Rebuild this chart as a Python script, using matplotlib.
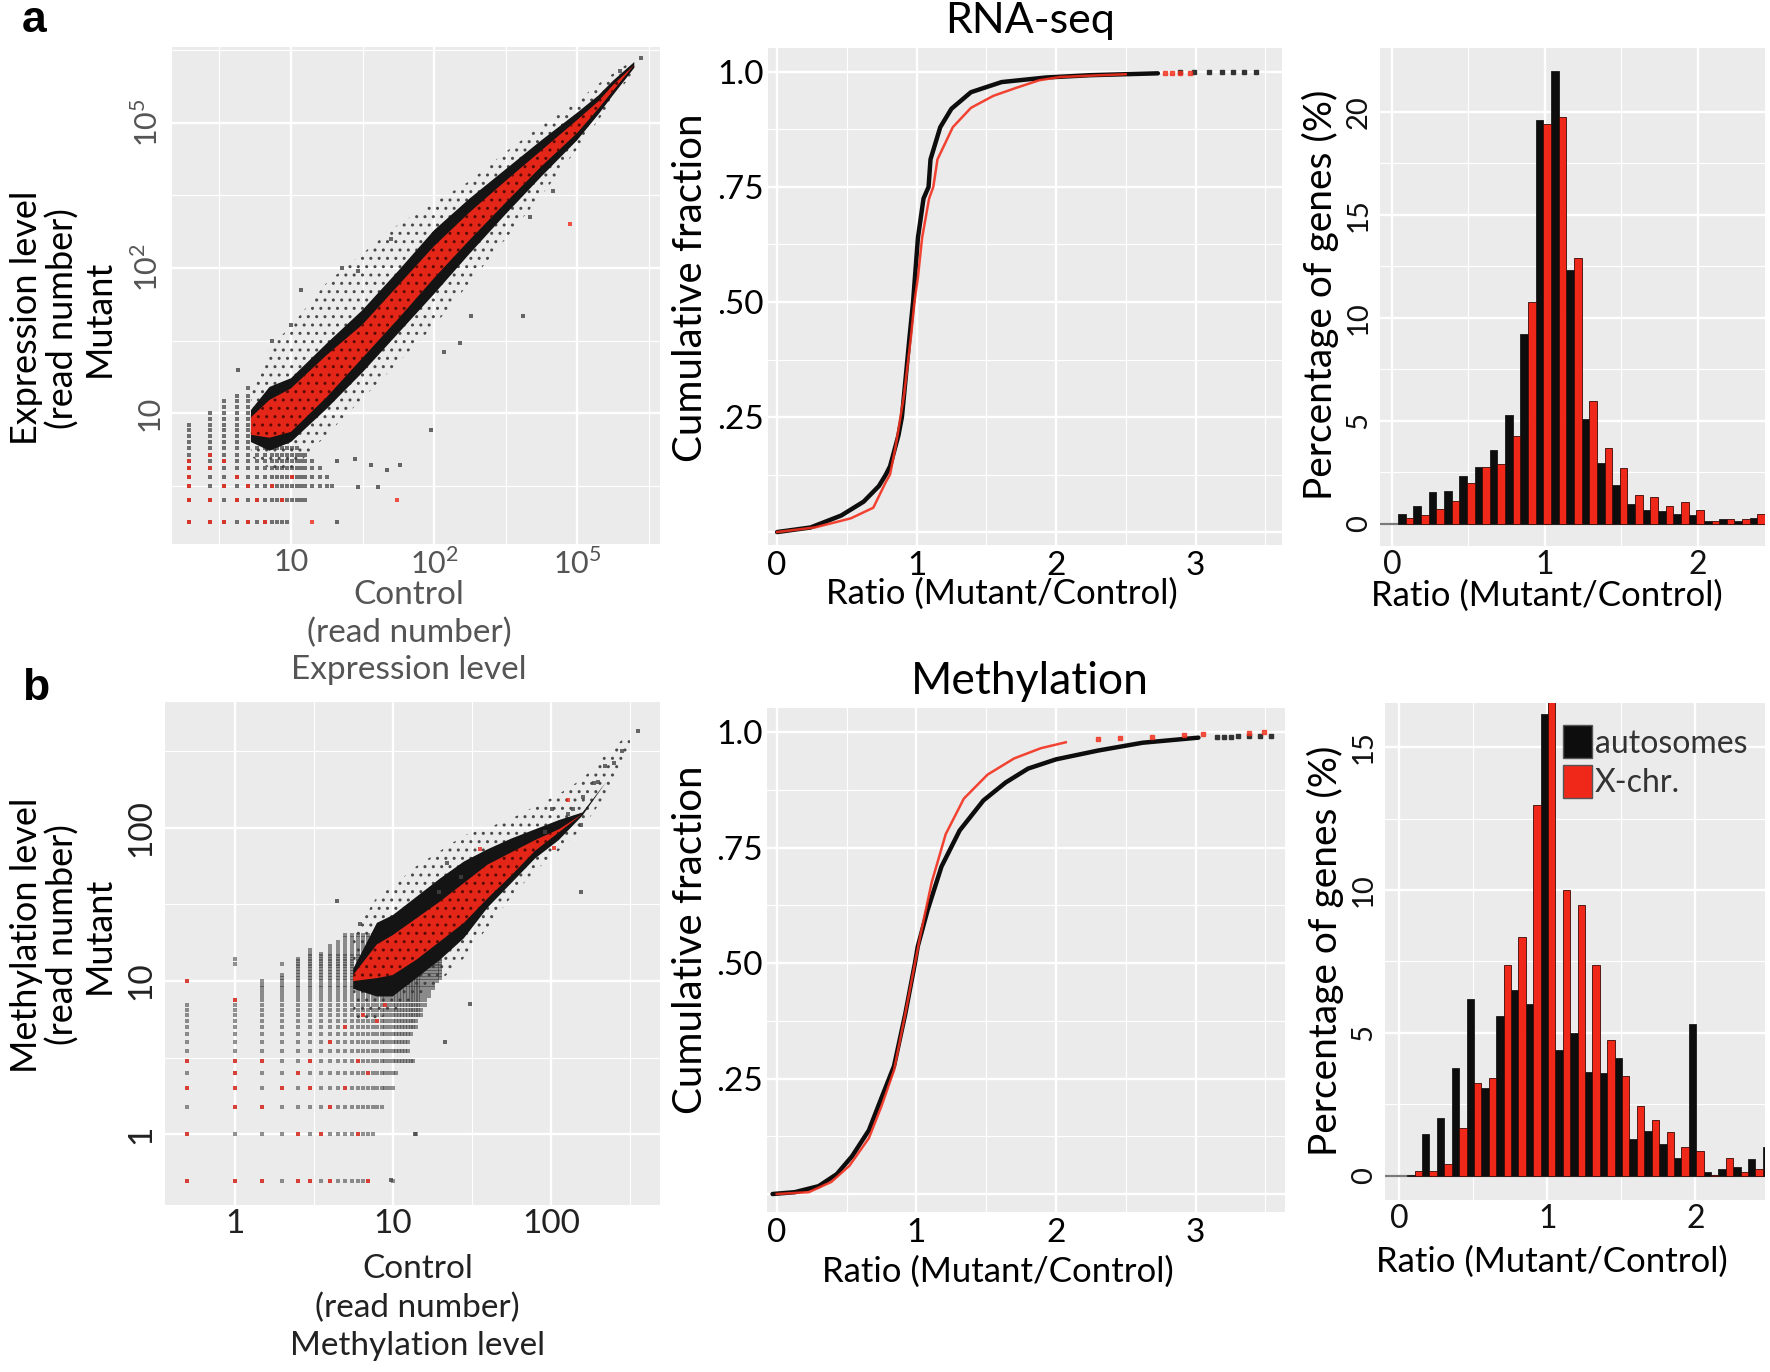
import numpy as np
import matplotlib.pyplot as plt
from matplotlib.patches import Patch

plt.rcParams['font.family'] = ['Lato', 'DejaVu Sans']
plt.rcParams['mathtext.fontset'] = 'custom'
plt.rcParams['mathtext.rm'] = 'Lato'
plt.rcParams['hatch.linewidth'] = 1.0

# ---------------------------------------------------------------------------
# a, scatter: expression level, both axes in log10 units
# ---------------------------------------------------------------------------
expr_x = [0.72, 0.85, 1.00, 1.25, 1.50, 1.75, 2.00, 2.25, 2.50, 2.75, 3.00, 3.15, 3.25, 3.40]
expr_halo_lo = [0.70, 0.62, 0.60, 0.85, 1.10, 1.35, 1.60, 1.90, 2.20, 2.50, 2.82, 3.02, 3.16, 3.36]
expr_halo_hi = [1.15, 1.45, 1.60, 1.90, 2.10, 2.30, 2.45, 2.60, 2.80, 2.98, 3.15, 3.27, 3.34, 3.44]
expr_core_lo = [0.80, 0.74, 0.80, 1.03, 1.28, 1.55, 1.82, 2.10, 2.37, 2.63, 2.88, 3.06, 3.19, 3.38]
expr_core_hi = [1.02, 1.18, 1.24, 1.48, 1.71, 1.98, 2.26, 2.48, 2.68, 2.88, 3.07, 3.19, 3.29, 3.42]
expr_red_lo = [0.85, 0.83, 0.87, 1.11, 1.38, 1.65, 1.93, 2.195, 2.45, 2.70, 2.93, 3.10, 3.22, 3.40]
expr_red_hi = [0.97, 1.09, 1.17, 1.40, 1.61, 1.88, 2.15, 2.385, 2.60, 2.81, 3.02, 3.15, 3.26, 3.40]

expr_out_x = [1.70, 1.07, 1.36, 1.47, 1.00, 0.87, 0.63, 1.98, 2.62, 2.83, 2.67, 1.67,
              1.76, 1.56, 1.45, 1.32, 1.61, 1.47, 1.32, 2.26, 2.07, 2.18, 3.45, 3.30]
expr_out_y = [2.20, 1.85, 2.00, 1.98, 1.61, 1.50, 1.30, 0.88, 1.67, 2.53, 2.35, 0.61,
              0.64, 0.64, 0.68, 0.67, 0.49, 0.49, 0.25, 1.67, 1.42, 1.48, 3.45, 3.36]
expr_out_red_x = [2.95, 1.74, 1.15]
expr_out_red_y = [2.30, 0.40, 0.25]

# low read numbers fall on a lattice
expr_cols = [0.286, 0.433, 0.532, 0.626, 0.700, 0.765, 0.820, 0.865, 0.905, 0.940,
             0.975, 1.010, 1.040, 1.070, 1.100, 1.150, 1.200, 1.250, 1.290]
expr_col_cap = [0.92, 1.03, 1.10, 1.12, 1.17, 1.20, 1.20, 1.20, 1.20, 1.20,
                1.20, 1.20, 1.20, 1.20, 1.20, 1.20, 1.20, 1.20, 1.20]
expr_rows = [0.252, 0.403, 0.494, 0.560, 0.621, 0.667, 0.712, 0.758, 0.800, 0.840,
             0.880, 0.920, 0.960, 1.000, 1.040, 1.080, 1.120, 1.170]
expr_row_cap = [1.00, 1.13, 1.29, 1.27, 1.24, 1.19, 1.10, 1.05, 1.00, 0.98,
                0.95, 0.90, 0.90, 0.90, 0.80, 0.75, 0.70, 0.70]
expr_red_cells = [(0, 0), (0, 1), (0, 2), (0, 3), (0, 4), (0, 5), (1, 0), (1, 1), (1, 4),
                  (1, 6), (2, 0), (2, 2), (2, 5), (3, 1), (3, 3), (4, 0), (4, 2), (5, 1),
                  (6, 0), (7, 2), (9, 1), (11, 3)]

# ---------------------------------------------------------------------------
# b, scatter: methylation level (read numbers; plotted in log10 units)
# ---------------------------------------------------------------------------
meth_x = [0.75, 0.90, 1.00, 1.15, 1.30, 1.45, 1.60, 1.75, 1.90, 2.05, 2.20, 2.35, 2.50]
meth_halo_lo = [0.75, 0.75, 0.80, 0.90, 1.00, 1.15, 1.35, 1.55, 1.72, 1.85, 2.00, 2.22, 2.50]
meth_halo_hi = [1.30, 1.55, 1.62, 1.75, 1.85, 1.95, 2.00, 2.06, 2.14, 2.22, 2.32, 2.48, 2.62]
meth_core_lo = [0.95, 0.90, 0.90, 1.02, 1.14, 1.28, 1.48, 1.64, 1.80, 1.92, 2.08, 2.30, 2.50]
meth_core_hi = [1.08, 1.38, 1.43, 1.55, 1.67, 1.78, 1.86, 1.93, 1.99, 2.05, 2.10, 2.30, 2.50]
meth_red_lo = [1.00, 1.02, 1.04, 1.14, 1.26, 1.38, 1.54, 1.69, 1.85, 1.97, 2.09, 2.30, 2.50]
meth_red_hi = [1.04, 1.24, 1.30, 1.41, 1.52, 1.64, 1.76, 1.84, 1.92, 1.99, 2.09, 2.30, 2.50]

meth_out_x = [0.65, 0.79, 1.34, 1.49, 1.33, 1.14, 0.99, 2.01, 2.11, 2.19, 2.20, 2.27,
              2.34, 2.19, 1.96, 1.43, 1.29, 2.45, 2.55, 2.40, 2.30, 2.14]
meth_out_y = [1.52, 1.37, 1.77, 0.85, 0.60, 0.00, -0.30, 2.12, 2.09, 2.02, 2.20, 2.29,
              2.40, 1.58, 1.97, 1.68, 1.58, 2.50, 2.63, 2.42, 2.30, 2.12]
meth_out_red_x = [2.02, 1.55, 2.11]
meth_out_red_y = [1.87, 1.86, 2.18]

meth_levels = [0.5, 1.0, 1.5, 2.0, 2.5, 3.0, 3.5, 4.0, 4.5, 5.0, 5.5, 6.0, 6.5, 7.0,
               7.5, 8.0, 8.5, 9.0, 9.5, 10.0, 10.5, 11.0, 11.5, 12.0, 12.5, 13.0, 13.5,
               14.0, 14.5, 15.0, 16.0, 17.0, 18.0, 19.0, 20.0]
meth_col_cap = [7, 7.5, 10, 11, 14, 16, 15, 17, 18, 20, 20, 20, 20, 20,
                20, 20, 20, 20, 20, 20, 20, 20, 20, 20, 20, 20, 20,
                20, 20, 20, 20, 20, 20, 20, 20]
meth_row_cap = [7, 7.5, 8.5, 10, 10.5, 13.5, 12.5, 12.5, 13, 14, 14, 15, 15, 16,
                16, 17, 17, 18, 18, 19, 20, 20, 20, 20, 20, 20, 20,
                20, 20, 20, 20, 20, 20, 20, 20]
meth_extra_x = [0.5, 1.0, 1.0, 2.0, 10.0, 14.0]
meth_extra_y = [10.0, 13.0, 14.0, 13.0, 0.5, 1.0]
meth_red_cells = [(0.5, 0.5), (0.5, 1.0), (0.5, 2.0), (0.5, 3.0), (0.5, 10.0), (1.0, 0.5),
                  (1.0, 1.5), (1.0, 2.0), (1.0, 2.5), (1.0, 3.0), (1.0, 7.5), (1.5, 0.5),
                  (1.5, 1.5), (1.5, 3.0), (2.0, 2.0), (2.5, 0.5), (2.5, 1.0), (2.5, 2.5),
                  (3.0, 0.5), (3.0, 2.0), (3.0, 3.0), (3.5, 1.0), (4.0, 0.5), (4.0, 1.5),
                  (4.0, 4.0), (5.0, 2.0), (5.0, 5.0), (6.0, 1.0), (6.0, 3.0), (7.0, 0.5),
                  (7.0, 2.5), (6.5, 6.0), (8.0, 5.5), (9.0, 7.0)]

# ---------------------------------------------------------------------------
# cumulative fractions of Mutant/Control ratio
# ---------------------------------------------------------------------------
rna_auto_x = [0.00, 0.24, 0.46, 0.62, 0.73, 0.78, 0.81, 0.87, 0.895, 0.91, 0.95, 0.975,
              1.01, 1.05, 1.086, 1.10, 1.17, 1.25, 1.39, 1.61, 1.93, 2.25, 2.73]
rna_auto_f = [0.00, 0.010, 0.036, 0.066, 0.100, 0.125, 0.143, 0.210, 0.250, 0.297, 0.425,
              0.500, 0.640, 0.725, 0.750, 0.810, 0.880, 0.920, 0.956, 0.978, 0.988,
              0.993, 0.997]
rna_auto_tail_x = [2.89, 2.99, 3.10, 3.19, 3.27, 3.35, 3.43]
rna_auto_tail_f = [0.999, 0.999, 0.999, 0.999, 0.999, 0.999, 0.999]
rna_x_x = [0.00, 0.27, 0.53, 0.69, 0.78, 0.81, 0.85, 0.91, 0.96, 0.985, 1.01, 1.04,
           1.09, 1.12, 1.15, 1.26, 1.39, 1.55, 1.71, 1.88, 2.03, 2.25, 2.50]
rna_x_f = [0.00, 0.010, 0.030, 0.053, 0.109, 0.125, 0.186, 0.297, 0.425, 0.500, 0.554,
           0.640, 0.725, 0.750, 0.810, 0.880, 0.922, 0.948, 0.965, 0.982, 0.989, 0.992,
           0.995]
rna_x_tail_x = [2.78, 2.83, 2.89, 2.96]
rna_x_tail_f = [0.997, 0.997, 0.998, 0.998]

meth_auto_x = [-0.03, 0.13, 0.30, 0.43, 0.54, 0.66, 0.75, 0.84, 0.92, 0.98, 0.99, 1.01,
               1.08, 1.18, 1.31, 1.48, 1.64, 1.80, 2.00, 2.30, 2.62, 3.02]
meth_auto_f = [0.000, 0.004, 0.017, 0.043, 0.082, 0.138, 0.208, 0.277, 0.389, 0.484,
               0.500, 0.536, 0.614, 0.709, 0.787, 0.852, 0.891, 0.921, 0.941, 0.960,
               0.977, 0.988]
meth_auto_tail_x = [3.15, 3.20, 3.25, 3.30, 3.38, 3.46, 3.54]
meth_auto_tail_f = [0.990, 0.990, 0.990, 0.991, 0.991, 0.992, 0.992]
meth_x_x = [0.00, 0.23, 0.39, 0.52, 0.66, 0.75, 0.84, 0.92, 0.98, 1.03, 1.11, 1.21,
            1.34, 1.51, 1.70, 1.89, 2.07]
meth_x_f = [0.000, 0.004, 0.026, 0.061, 0.121, 0.190, 0.268, 0.389, 0.484, 0.562, 0.675,
            0.779, 0.856, 0.908, 0.943, 0.965, 0.978]
meth_x_tail_x = [2.30, 2.46, 2.69, 2.92, 3.05, 3.38, 3.49]
meth_x_tail_f = [0.985, 0.988, 0.990, 0.994, 0.996, 0.998, 1.000]

# ---------------------------------------------------------------------------
# histograms (percentage of genes per 0.1 ratio bin)
# ---------------------------------------------------------------------------
rna_bins = [0.09, 0.19, 0.29, 0.39, 0.49, 0.59, 0.69, 0.79, 0.89, 0.99, 1.09, 1.19,
            1.29, 1.39, 1.49, 1.59, 1.69, 1.79, 1.89, 1.99, 2.09, 2.19, 2.29, 2.39]
rna_auto_pct = [0.47, 0.88, 1.55, 1.58, 2.35, 2.75, 3.60, 5.30, 9.20, 19.60, 22.00, 12.35,
                5.10, 2.97, 1.90, 0.95, 0.66, 0.63, 0.47, 0.44, 0.13, 0.25, 0.17, 0.28]
rna_x_pct = [0.27, 0.42, 0.75, 1.13, 2.00, 2.75, 2.90, 4.26, 10.76, 19.40, 19.73, 12.90,
             5.97, 3.70, 2.70, 1.42, 1.29, 0.85, 1.08, 0.66, 0.13, 0.23, 0.23, 0.47]

meth_bins = [0.105, 0.205, 0.305, 0.405, 0.505, 0.605, 0.705, 0.805, 0.905, 1.005, 1.105,
             1.205, 1.305, 1.405, 1.505, 1.605, 1.705, 1.805, 1.905, 2.005, 2.105, 2.205,
             2.305, 2.405, 2.505]
meth_auto_pct = [0.03, 1.46, 2.02, 3.77, 6.20, 3.07, 5.58, 6.49, 6.00, 16.15, 4.39, 4.99,
                 3.65, 3.60, 4.11, 1.30, 1.58, 1.12, 0.63, 5.30, 0.14, 0.24, 0.31, 0.59, 1.00]
meth_x_pct = [0.17, 0.17, 0.42, 1.67, 3.24, 3.42, 7.39, 8.37, 12.97, 16.76, 10.00, 9.48,
              7.39, 4.77, 3.51, 2.44, 1.95, 1.53, 1.00, 0.86, 0.03, 0.63, 0.14, 0.25, 0.00]

BG = '#EBEBEB'
RED = '#F0281A'
BLACK = '#0D0D0D'


def ggplot_panel(ax, xmaj, xmin, ymaj, ymin, xlim, ylim):
    ax.set_facecolor(BG)
    for s in ax.spines.values():
        s.set_visible(False)
    ax.set_xticks(xmaj)
    ax.set_xticks(xmin, minor=True)
    ax.set_yticks(ymaj)
    ax.set_yticks(ymin, minor=True)
    ax.grid(which='major', color='white', linewidth=1.7)
    ax.grid(which='minor', color='white', linewidth=0.8)
    ax.set_axisbelow(True)
    ax.tick_params(which='both', length=0)
    ax.set_xlim(*xlim)
    ax.set_ylim(*ylim)


def draw_cloud(ax, x, halo_lo, halo_hi, core_lo, core_hi, red_lo, red_hi):
    # sparse outer points as a dotted hatch, dense core solid
    ax.fill_between(x, halo_lo, halo_hi, facecolor='none', edgecolor='#4a4a4a',
                    hatch='..', linewidth=0, zorder=2)
    ax.fill_between(x, core_lo, core_hi, facecolor='#141414', linewidth=0, zorder=4)
    ax.fill_between(x, red_lo, red_hi, facecolor=RED, alpha=0.95, linewidth=0, zorder=5)
    ax.fill_between(x, red_lo, red_hi, facecolor='none', edgecolor='#5a0a00',
                    hatch='..', linewidth=0, zorder=5)


def lattice(cols, col_cap, rows, row_cap):
    pts = [(cx, ry) for cx, cc in zip(cols, col_cap)
           for ry, rc in zip(rows, row_cap) if ry <= cc and cx <= rc]
    return np.array(pts)


fig = plt.figure(figsize=(17.7, 13.72), dpi=100)

# ---------------- a: scatter ----------------
ax = fig.add_axes([0.0970, 0.6035, 0.2759, 0.3625])
ggplot_panel(ax, [1, 2, 3], [0.5, 1.5, 2.5, 3.5], [1, 2, 3], [0.5, 1.5, 2.5, 3.5],
             (0.166, 3.58), (0.097, 3.526))
pts = lattice(expr_cols, expr_col_cap, expr_rows, expr_row_cap)
ax.scatter(pts[:, 0], pts[:, 1], marker='s', s=5, color='#3a3a3a', alpha=0.7,
           linewidths=0, zorder=3)
red_pts = np.array([(expr_cols[c], expr_rows[r]) for c, r in expr_red_cells])
ax.scatter(red_pts[:, 0], red_pts[:, 1], marker='s', s=6, color=RED, alpha=0.8,
           linewidths=0, zorder=3)
draw_cloud(ax, expr_x, expr_halo_lo, expr_halo_hi, expr_core_lo, expr_core_hi,
           expr_red_lo, expr_red_hi)
ax.scatter(expr_out_x, expr_out_y, marker='s', s=6, color='#444444', alpha=0.8,
           linewidths=0, zorder=6)
ax.scatter(expr_out_red_x, expr_out_red_y, marker='s', s=7, color=RED, alpha=0.8,
           linewidths=0, zorder=6)
ax.set_xticklabels(['10', r'10$^{2}$', r'10$^{5}$'], fontsize=22, color='#555555')
ax.set_yticklabels(['10', r'10$^{2}$', r'10$^{5}$'], fontsize=22, color='#555555',
                   rotation=90, va='center')
ax.tick_params(axis='x', pad=3)
ax.tick_params(axis='y', pad=6)

# ---------------- b: scatter ----------------
ax = fig.add_axes([0.0932, 0.1217, 0.2797, 0.3666])
ggplot_panel(ax, [0, 1, 2], [0.5, 1.5, 2.5], [0, 1, 2], [0.5, 1.5, 2.5],
             (-0.44, 2.69), (-0.46, 2.82))
pts = np.log10(lattice(meth_levels, meth_col_cap, meth_levels, meth_row_cap))
ax.scatter(pts[:, 0], pts[:, 1], marker='s', s=6, color='#3a3a3a', alpha=0.55,
           linewidths=0, zorder=3)
ax.scatter(np.log10(meth_extra_x), np.log10(meth_extra_y), marker='s', s=6,
           color='#3a3a3a', alpha=0.55, linewidths=0, zorder=3)
red_pts = np.log10(np.array(meth_red_cells))
ax.scatter(red_pts[:, 0], red_pts[:, 1], marker='s', s=7, color=RED, alpha=0.75,
           linewidths=0, zorder=3)
draw_cloud(ax, meth_x, meth_halo_lo, meth_halo_hi, meth_core_lo, meth_core_hi,
           meth_red_lo, meth_red_hi)
ax.scatter(meth_out_x, meth_out_y, marker='s', s=6, color='#444444', alpha=0.8,
           linewidths=0, zorder=6)
ax.scatter(meth_out_red_x, meth_out_red_y, marker='s', s=7, color=RED, alpha=0.8,
           linewidths=0, zorder=6)
ax.set_xticklabels(['1', '10', '100'], fontsize=24, color='#222222')
ax.set_yticklabels(['1', '10', '100'], fontsize=24, color='#222222',
                   rotation=90, va='center')
ax.tick_params(axis='x', pad=3)
ax.tick_params(axis='y', pad=6)

# ---------------- CDF panels ----------------
cdf_panels = [
    ([0.4339, 0.6028, 0.2904, 0.3622], (-0.065, 3.62), (-0.028, 1.052),
     rna_auto_x, rna_auto_f, rna_auto_tail_x, rna_auto_tail_f,
     rna_x_x, rna_x_f, rna_x_tail_x, rna_x_tail_f),
    ([0.4333, 0.1166, 0.2927, 0.3673], (-0.07, 3.64), (-0.039, 1.052),
     meth_auto_x, meth_auto_f, meth_auto_tail_x, meth_auto_tail_f,
     meth_x_x, meth_x_f, meth_x_tail_x, meth_x_tail_f),
]
for rect, xl, yl, ax_, af, atx, atf, xx, xf, xtx, xtf in cdf_panels:
    ax = fig.add_axes(rect)
    ggplot_panel(ax, [0, 1, 2, 3], [0.5, 1.5, 2.5, 3.5],
                 [0, 0.25, 0.5, 0.75, 1.0], [0.125, 0.375, 0.625, 0.875], xl, yl)
    ax.plot(ax_, af, color=BLACK, lw=3.2, solid_capstyle='round', zorder=3)
    ax.plot(atx, atf, 's', ms=2.8, color='#333333', zorder=3)
    ax.plot(xx, xf, color='#F2301E', lw=1.8, alpha=0.9, zorder=4)
    ax.plot(xtx, xtf, 's', ms=2.4, color='#F2301E', alpha=0.8, zorder=4)
    ax.set_xticklabels(['0', '1', '2', '3'], fontsize=24, color='black')
    ax.set_yticklabels(['', '.25', '.50', '.75', '1.0'], fontsize=24, color='black')
    ax.tick_params(axis='x', pad=4)
    ax.tick_params(axis='y', pad=3)

# ---------------- histograms ----------------
hist_panels = [
    ([0.7797, 0.6020, 0.2175, 0.3630], (-0.078, 2.44), (-1.07, 23.1),
     [0, 5, 10, 15, 20], [2.5, 7.5, 12.5, 17.5], rna_bins, rna_auto_pct, rna_x_pct),
    ([0.7825, 0.1254, 0.2147, 0.3622], (-0.095, 2.47), (-0.84, 16.54),
     [0, 5, 10, 15], [2.5, 7.5, 12.5], meth_bins, meth_auto_pct, meth_x_pct),
]
hist_axes = []
for rect, xl, yl, ymaj, ymin, bins, auto, xchr in hist_panels:
    ax = fig.add_axes(rect)
    ggplot_panel(ax, [0, 1, 2], [0.5, 1.5], ymaj, ymin, xl, yl)
    ax.axhline(0, color='#7a7a7a', lw=1.6, zorder=1)
    b = np.array(bins)
    ax.bar(b - 0.025, auto, width=0.05, color=BLACK, edgecolor='#1a1a1a', lw=0.6, zorder=2)
    ax.bar(b + 0.025, xchr, width=0.05, color=RED, edgecolor='#3a0a05', lw=0.6, zorder=2)
    ax.set_xticklabels(['0', '1', '2'], fontsize=23, color='#111111')
    ax.set_yticklabels([str(v) for v in ymaj], fontsize=21, color='#111111',
                       rotation=90, va='center')
    ax.tick_params(axis='x', pad=3)
    ax.tick_params(axis='y', pad=6)
    hist_axes.append(ax)

hist_axes[1].legend(handles=[Patch(facecolor=BLACK, edgecolor='#555555', label='autosomes'),
                             Patch(facecolor=RED, edgecolor='#555555', label='X-chr.')],
                    loc='upper left', bbox_to_anchor=(0.41, 1.0), frameon=False,
                    fontsize=23, handlelength=0.9, handleheight=1.2, handletextpad=0.1,
                    labelspacing=0.2, borderpad=0.2, labelcolor='#333333')

# ---------------- texts ----------------
fig.text(0.0356, 0.768, 'Expression level\n(read number)\nMutant', rotation=90,
         ha='center', va='center', fontsize=26, linespacing=1.1)
fig.text(0.231, 0.539, 'Control\n(read number)\nExpression level', ha='center',
         va='center', fontsize=24, linespacing=1.3, color='#555555')
fig.text(0.0356, 0.3185, 'Methylation level\n(read number)\nMutant', rotation=90,
         ha='center', va='center', fontsize=26, linespacing=1.1)
fig.text(0.236, 0.047, 'Control\n(read number)\nMethylation level', ha='center',
         va='center', fontsize=24, linespacing=1.35, color='#222222')

fig.text(0.390, 0.790, 'Cumulative fraction', rotation=90, ha='center', va='center',
         fontsize=29)
fig.text(0.390, 0.315, 'Cumulative fraction', rotation=90, ha='center', va='center',
         fontsize=29)
fig.text(0.566, 0.567, 'Ratio (Mutant/Control)', ha='center', va='center', fontsize=25)
fig.text(0.564, 0.073, 'Ratio (Mutant/Control)', ha='center', va='center', fontsize=25)

fig.text(0.746, 0.785, 'Percentage of genes (%)', rotation=90, ha='center', va='center',
         fontsize=28)
fig.text(0.749, 0.307, 'Percentage of genes (%)', rotation=90, ha='center', va='center',
         fontsize=28)
fig.text(0.874, 0.566, 'Ratio (Mutant/Control)', ha='center', va='center', fontsize=25)
fig.text(0.877, 0.080, 'Ratio (Mutant/Control)', ha='center', va='center', fontsize=25)

fig.text(0.582, 0.985, 'RNA-seq', ha='center', va='center', fontsize=31)
fig.text(0.582, 0.503, 'Methylation', ha='center', va='center', fontsize=32)
fig.text(0.019, 0.985, 'a', ha='center', va='center', fontsize=32, fontweight='bold',
         family='Liberation Sans')
fig.text(0.020, 0.498, 'b', ha='center', va='center', fontsize=32, fontweight='bold',
         family='Liberation Sans')

fig.savefig('out.png', dpi=100)
